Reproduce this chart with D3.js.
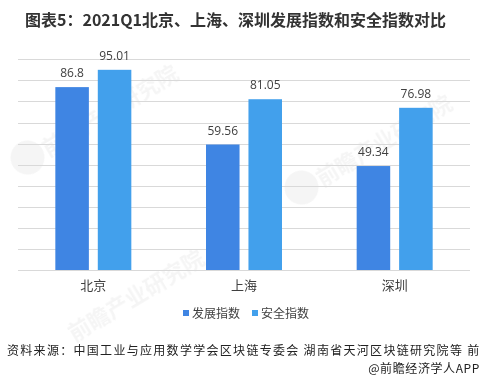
<!DOCTYPE html>
<html><head><meta charset="utf-8">
<script src="https://cdn.jsdelivr.net/npm/d3@7/dist/d3.min.js"></script>
<style>
html,body{margin:0;padding:0;background:#fff;}
svg{display:block;font-family:"Noto Sans CJK SC","Noto Sans",sans-serif;}
</style></head>
<body>
<svg id="chart" width="481" height="383"></svg>
<script>
const title = "图表5：2021Q1北京、上海、深圳发展指数和安全指数对比";
const categories = ["北京", "上海", "深圳"];
const seriesNames = ["发展指数", "安全指数"];
const devValues = [86.8, 59.56, 49.34];
const safeValues = [95.01, 81.05, 76.98];
const yTicks = [0,10,20,30,40,50,60,70,80,90,100];
const sourceText = "资料来源：中国工业与应用数学学会区块链专委会 湖南省天河区块链研究院等 前";
const creditText = "@前瞻经济学人APP";
const colors = ["#3F85E3", "#42A0EC"];

const svg = d3.select("#chart");

// faint watermarks
const wm = svg.append("g").attr("fill", "#000").attr("opacity", 0.04)
  .attr("font-weight", "bold");
[[44,150,true],[318,180,true],[70,335,false]].forEach(([x,y,logo]) => {
  const g = wm.append("g").attr("transform", `translate(${x},${y}) rotate(-31)`);
  if (logo) g.append("circle").attr("cx", -18).attr("cy", -2).attr("r", 17);
  g.append("text").attr("x", 0).attr("y", 8).attr("font-size", 22).text("前瞻产业研究院");
});

svg.append("text").attr("x", 25).attr("y", 26)
  .attr("font-size", 16).attr("font-weight", "bold").attr("fill", "#333")
  .text(title);

const plotL = 18, plotR = 470, plotT = 59.3, plotB = 270;
const x0 = d3.scaleBand().domain(categories).range([plotL, plotR]).padding(0);
const x1 = d3.scaleBand().domain(seriesNames).range([0, 76]).paddingInner(0.21);
const y = d3.scaleLinear().domain([0, 100]).range([plotB, plotT]);

svg.append("g").selectAll("line").data(yTicks.slice(1)).join("line")
  .attr("x1", plotL).attr("x2", plotR)
  .attr("y1", d => Math.round(y(d)) + 0.5).attr("y2", d => Math.round(y(d)) + 0.5)
  .attr("stroke", "#d9d9d9").attr("stroke-width", 1);

const data = categories.map((c, i) => ({cat: c, vals: [devValues[i], safeValues[i]]}));
const off = (x0.bandwidth() - 76) / 2;
const groups = svg.append("g").selectAll("g").data(data).join("g")
  .attr("transform", d => `translate(${x0(d.cat) + off},0)`);
groups.selectAll("rect").data(d => d.vals.map((v, j) => ({v, s: seriesNames[j], j})))
  .join("rect")
  .attr("x", d => x1(d.s)).attr("width", x1.bandwidth())
  .attr("y", d => y(d.v)).attr("height", d => y(0) - y(d.v))
  .attr("fill", d => colors[d.j]);
groups.selectAll("text").data(d => d.vals.map((v, j) => ({v, s: seriesNames[j]})))
  .join("text")
  .attr("x", d => x1(d.s) + x1.bandwidth() / 2).attr("y", d => y(d.v) - 10)
  .attr("text-anchor", "middle").attr("font-size", 12).attr("fill", "#404040")
  .attr("font-family", "'Open Sans','Noto Sans',sans-serif")
  .text(d => d.v);

// baseline
svg.append("line").attr("x1", plotL).attr("x2", plotR)
  .attr("y1", Math.round(y(0)) + 0.5).attr("y2", Math.round(y(0)) + 0.5)
  .attr("stroke", "#d9d9d9");

const xAxis = d3.axisBottom(x0).tickSize(0).tickPadding(11);
const ax = svg.append("g").attr("transform", `translate(0,${y(0)})`).call(xAxis);
ax.select(".domain").remove();
ax.selectAll("text").attr("font-size", 13).attr("fill", "#404040")
  .attr("font-family", "'Noto Sans CJK SC',sans-serif");

// legend
const legend = svg.append("g").attr("transform", "translate(183,313)");
const lx = [0, 69];
seriesNames.forEach((s, i) => {
  const g = legend.append("g").attr("transform", `translate(${lx[i]},0)`);
  g.append("rect").attr("x", 0).attr("y", -3).attr("width", 6).attr("height", 6).attr("fill", colors[i]);
  g.append("text").attr("x", 9).attr("y", 4.5).attr("font-size", 12).attr("fill", "#404040").text(s);
});

svg.append("text").attr("x", 7).attr("y", 355)
  .attr("font-size", 12).attr("letter-spacing", 1.3).attr("fill", "#222")
  .text(sourceText);
svg.append("text").attr("x", 480).attr("y", 373).attr("text-anchor", "end")
  .attr("font-size", 12).attr("letter-spacing", 0.6).attr("fill", "#222")
  .text(creditText);
</script>
</body></html>
